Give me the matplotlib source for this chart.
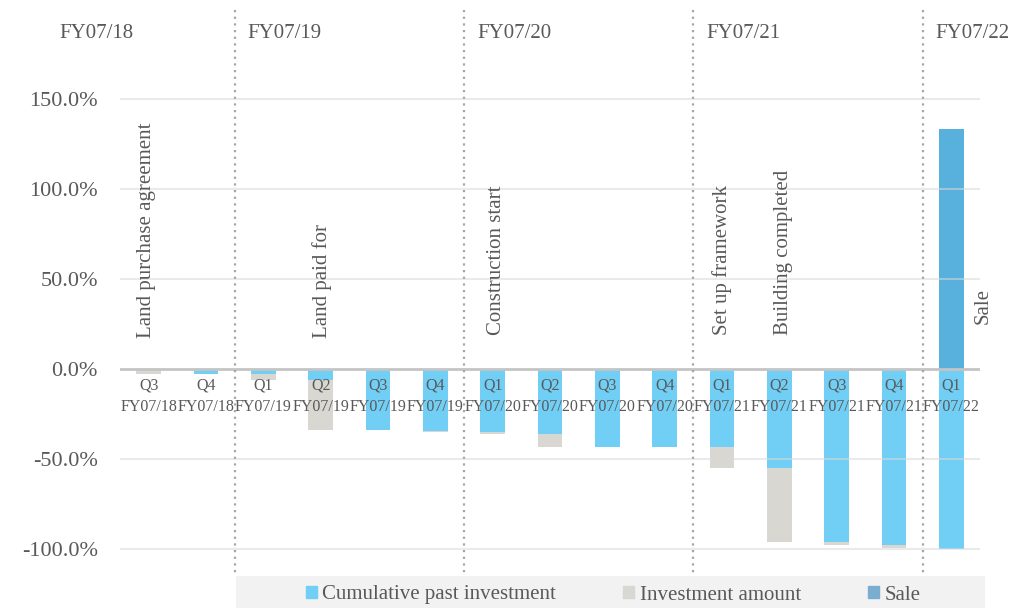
import matplotlib.pyplot as plt
from matplotlib.patches import Rectangle, Patch
from matplotlib.lines import Line2D
import matplotlib.transforms as mtransforms

plt.rcParams['font.family'] = ['Liberation Serif', 'DejaVu Serif']

# data (% of total investment)
quarters = ['Q3', 'Q4', 'Q1', 'Q2', 'Q3', 'Q4', 'Q1', 'Q2', 'Q3', 'Q4',
            'Q1', 'Q2', 'Q3', 'Q4', 'Q1']
fiscal = ['FY07/18', 'FY07/18', 'FY07/19', 'FY07/19', 'FY07/19', 'FY07/19',
          'FY07/20', 'FY07/20', 'FY07/20', 'FY07/20',
          'FY07/21', 'FY07/21', 'FY07/21', 'FY07/21', 'FY07/22']
cumulative = [0, -3.0, -3.0, -6.0, -34.0, -34.5, -35.0, -36.0, -43.3, -43.3,
              -43.3, -55.0, -96.0, -98.0, -100.0]
investment = [-3.0, 0, -3.3, -28.0, 0, -0.5, -1.0, -7.3, 0, 0,
              -11.7, -41.0, -2.0, -1.5, 0]
sale = [0, 0, 0, 0, 0, 0, 0, 0, 0, 0, 0, 0, 0, 0, 133.3]

years = ['FY07/18', 'FY07/19', 'FY07/20', 'FY07/21', 'FY07/22']
year_breaks = [1.5, 5.5, 9.5, 13.5]

events = ['Land purchase agreement', 'Land paid for', 'Construction start',
          'Set up framework', 'Building completed', 'Sale']
event_x = [-0.03, 3.02, 6.06, 10.0, 11.08, 14.55]
event_y = [17, 17, 19, 19, 19, 25]

c_cum = '#71CEF5'
c_inv = '#D9D7D1'
c_sale = '#58B0DC'
txt = '#595959'

fig = plt.figure(figsize=(10.18, 6.08), dpi=100)
ax = fig.add_axes([0.1179, 0.0793, 0.8448, 0.7875])

x = list(range(len(quarters)))
w = 0.43
ax.bar(x, cumulative, w, color=c_cum, zorder=2)
ax.bar(x, investment, w, bottom=cumulative, color=c_inv, zorder=2)
ax.bar(x, sale, w, color=c_sale, zorder=2)

ax.set_xlim(-0.5, len(quarters) - 0.5)
ax.set_ylim(-106, 160)
yt = [150, 100, 50, 0, -50, -100]
ax.set_yticks(yt)
ax.set_yticklabels([f'{v:.1f}%' for v in yt])
ax.tick_params(axis='y', length=0, pad=16, labelsize=16, labelcolor=txt)
ax.set_xticks([])
for s in ax.spines.values():
    s.set_visible(False)

for v in yt:
    if v == 0:
        ax.axhline(v, color='#c4c4c4', lw=2, zorder=3)
    else:
        ax.axhline(v, color='#d9d9d9', lw=1.5, alpha=0.55, zorder=3)

# quarter labels under the zero line
for i in x:
    ax.text(i, -5, quarters[i] + '\n' + fiscal[i], ha='center', va='top',
            fontsize=11.5, color=txt, linespacing=1.45, zorder=4)

# event labels
for ex, ey, t in zip(event_x, event_y, events):
    ax.text(ex, ey, t, rotation=90, ha='center', va='bottom',
            fontsize=15, color=txt, zorder=4)

# year separators spanning the figure height
tr = mtransforms.blended_transform_factory(ax.transData, fig.transFigure)
for b in year_breaks:
    fig.add_artist(Line2D([b, b], [1 - 10 / 608, 1 - 576 / 608], transform=tr,
                          color='#a6a6a6', lw=1.6, ls=(0, (1, 2))))

# year labels
ty = 1 - 33 / 608
fig.text(96.5 / 1018, ty, years[0], ha='center', va='center',
         fontsize=15, color=txt)
shift = mtransforms.ScaledTranslation(13 / 100, 0, fig.dpi_scale_trans)
for b, y in zip(year_breaks, years[1:]):
    fig.text(b, ty, y, ha='left', va='center', fontsize=15, color=txt,
             transform=tr + shift)

# legend
fig.add_artist(Rectangle((236 / 1018, 0), (985 - 236) / 1018, 32 / 608,
                         transform=fig.transFigure, facecolor='#f2f2f2',
                         edgecolor='none'))
handles = [Patch(color=c_cum), Patch(color=c_inv), Patch(color='#7AAED0')]
fig.legend(handles, ['Cumulative past investment', 'Investment amount', 'Sale'],
           loc='center', bbox_to_anchor=(613 / 1018, 13 / 608), ncol=3,
           frameon=False, fontsize=15, labelcolor=txt, handlelength=0.55,
           handleheight=0.55, handletextpad=0.25, columnspacing=3.2,
           borderpad=0, borderaxespad=0)

fig.savefig('out.png', dpi=100)
